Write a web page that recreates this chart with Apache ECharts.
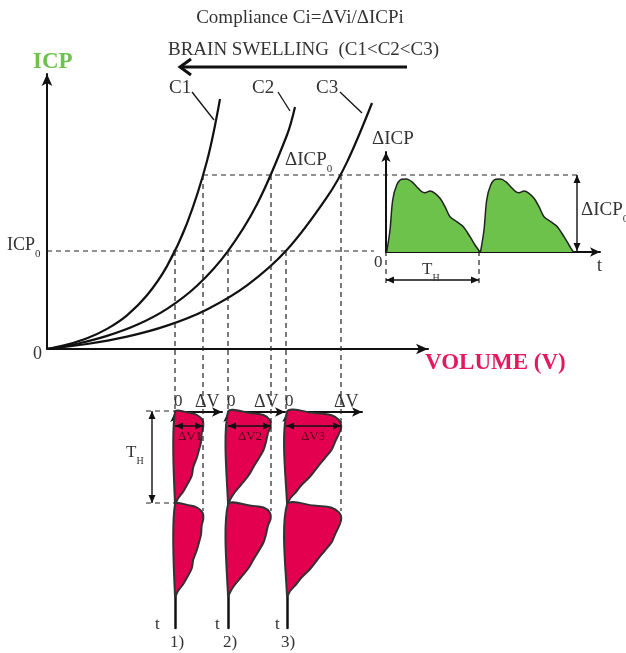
<!DOCTYPE html>
<html>
<head>
<meta charset="utf-8">
<script src="https://cdn.jsdelivr.net/npm/echarts@6/dist/echarts.min.js"></script>
<style>
  html, body { margin: 0; padding: 0; background: #fff; }
  #chart { width: 626px; height: 653px; }
</style>
</head>
<body>
<div id="chart"></div>
<script>
// pressure-volume curves (volume, ICP)
const volC1 = [0, 20, 40, 60, 80, 100, 120, 140, 160, 173];
const icpC1 = [0, 4.4, 10.7, 20.1, 33.7, 53.7, 82.9, 125.6, 188, 250];
const volC2 = [0, 30, 60, 90, 120, 150, 180, 210, 240, 248];
const icpC2 = [0, 5.3, 13.1, 24.2, 40.2, 63.3, 96.7, 144.7, 214, 242];
const volC3 = [0, 40, 80, 120, 160, 200, 240, 280, 300, 325];
const icpC3 = [0, 5.0, 12.4, 23.4, 39.6, 63.6, 99.2, 151.8, 186.9, 246];

// reference levels
const icp0 = 98;                    // ICP0
const icpTop = 174;                 // ICP0 + dICP0
const volAtIcp0 = [128, 181, 239];  // C1, C2, C3 at ICP0
const volAtTop = [156, 224, 294];   // C1, C2, C3 at ICP0 + dICP0

// dICP pulse (time, dICP), two heart beats
const beat1T = [0.7, 4, 6.7, 10.7, 15.7, 20.7, 25.7, 30.7, 35.7, 39, 44, 49, 54, 59, 64, 70.7, 77.3, 84, 89, 94];
const beat2T = [94.5, 98, 100.7, 104.7, 109.7, 114.7, 119.7, 124.7, 129.7, 133, 138, 143, 148, 153, 158, 164.7, 171.3, 178, 183, 187.3];
const beatICP = [0, 22, 52, 67, 72.7, 73, 70.3, 65.3, 60.3, 59.3, 61, 58.7, 53.7, 45.3, 35.3, 30.3, 25.3, 15.3, 7, 0];

// dV pulses (dV, time) for the three compliances
const dvT1 = [0, 1, 3, 8, 14, 21, 30, 38, 46, 55, 64, 73, 80, 86, 91.5];
const dvT2 = [92.5, 93.5, 95.5, 100.5, 106.5, 113.5, 122.5, 130.5, 138.5, 147.5, 156.5, 165.5, 172.5, 178.5, 184];
const dv1 = [0, 15, 22, 27.5, 28.3, 26.7, 26, 24, 21.7, 18.3, 16.7, 12, 8, 3.3, 0];
const dv2 = [0, 21.7, 35.5, 41.8, 42.7, 40, 38, 35.5, 31, 25.5, 20.2, 12.8, 7, 3, 0];
const dv3 = [0, 26.7, 44, 52, 54.3, 52.3, 48, 44.5, 38, 30.5, 23.5, 14.5, 9, 3.5, 0];

const SERIF = "'Liberation Serif', 'Times New Roman', serif";
const INK = '#111';
const TXT = '#333';
const GREEN = '#6cc24a';
const RED = '#e2004f';

var chart = echarts.init(document.getElementById('chart'), null, { renderer: 'canvas' });

function zip(a, b) {
  return a.map(function (v, i) { return [v, b[i]]; });
}

// hidden-tick axis with an arrow on the end
function arrowAxis(opt, width, size) {
  return Object.assign({
    type: 'value',
    axisLine: { show: true, onZero: false, symbol: ['none', 'arrow'], symbolSize: size, lineStyle: { color: INK, width: width } },
    axisTick: { show: false },
    axisLabel: { show: false },
    splitLine: { show: false }
  }, opt);
}

function curve(name, xs, ys) {
  return {
    name: name, type: 'line', xAxisIndex: 0, yAxisIndex: 0,
    data: zip(xs, ys), smooth: 0.35, showSymbol: false, silent: true,
    lineStyle: { color: INK, width: 2.2 }
  };
}

function beat(ts) {
  return {
    type: 'line', xAxisIndex: 1, yAxisIndex: 1, data: zip(ts, beatICP),
    smooth: 0.3, showSymbol: false, silent: true,
    lineStyle: { color: '#222', width: 1.5 },
    areaStyle: { color: GREEN, opacity: 1 }
  };
}

// dV pulse drawn as a filled shape against the vertical time axis
function dvPulse(idx, vals, ts) {
  const pts = zip(vals, ts);
  return {
    type: 'custom', xAxisIndex: idx, yAxisIndex: idx, silent: true, z: 3,
    data: [[0, 0]],
    renderItem: function (params, api) {
      return {
        type: 'polygon',
        shape: { points: pts.map(function (p) { return api.coord(p); }), smooth: 0.3 },
        style: { fill: RED, stroke: '#333', lineWidth: 2 }
      };
    }
  };
}

function head(a, b, len, wid) {
  const dx = b[0] - a[0], dy = b[1] - a[1];
  const d = Math.hypot(dx, dy), ux = dx / d, uy = dy / d;
  const bx = b[0] - ux * len, by = b[1] - uy * len;
  return {
    type: 'polygon',
    shape: { points: [b, [bx - uy * wid, by + ux * wid], [bx + uy * wid, by - ux * wid]] },
    style: { fill: INK }
  };
}

// guide lines, in volume / ICP units of the main plot
const dashes = [
  [[0, icp0], [327, icp0]],
  [[volAtTop[0], icpTop], [531, icpTop]],
  [[339, icp0], [339, 65]],
  [[432, icp0], [432, 65]],
  [[99, -62], [128, -62]],
  [[99, -154], [128, -154]]
];
volAtIcp0.forEach(function (v) { dashes.push([[v, icp0], [v, -62]]); });
volAtTop.forEach(function (v) { dashes.push([[v, icpTop], [v, -162]]); });

const doubleArrows = [
  [[530, icpTop], [530, icp0]],
  [[339, 69], [432, 69]],
  [[105, -62], [105, -154]]
];
volAtIcp0.forEach(function (v, i) { doubleArrows.push([[v, -77], [volAtTop[i], -77]]); });

const leaders = [
  [[145, 257], [167, 229]],
  [[231, 257], [243, 238]],
  [[293, 257], [315, 236]]
];

const guides = {
  type: 'custom', xAxisIndex: 0, yAxisIndex: 0, silent: true, z: 4,
  data: [[0, 0]],
  renderItem: function (params, api) {
    const kids = [];
    dashes.forEach(function (s) {
      const a = api.coord(s[0]), b = api.coord(s[1]);
      kids.push({ type: 'line', shape: { x1: a[0], y1: a[1], x2: b[0], y2: b[1] },
        style: { stroke: '#222', lineWidth: 1.2, lineDash: [5, 4] } });
    });
    doubleArrows.forEach(function (s) {
      const a = api.coord(s[0]), b = api.coord(s[1]);
      kids.push({ type: 'line', shape: { x1: a[0], y1: a[1], x2: b[0], y2: b[1] },
        style: { stroke: INK, lineWidth: 1.4 } });
      kids.push(head(a, b, 8, 3.5));
      kids.push(head(b, a, 8, 3.5));
    });
    leaders.forEach(function (s) {
      const a = api.coord(s[0]), b = api.coord(s[1]);
      kids.push({ type: 'line', shape: { x1: a[0], y1: a[1], x2: b[0], y2: b[1] },
        style: { stroke: INK, lineWidth: 1.3 } });
    });
    // brain swelling arrow
    const s0 = api.coord([360, 282]), s1 = api.coord([133, 282]);
    kids.push({ type: 'line', shape: { x1: s0[0], y1: s0[1], x2: s1[0] + 2, y2: s1[1] },
      style: { stroke: INK, lineWidth: 3 } });
    kids.push({ type: 'polyline', shape: { points: [[s1[0] + 11, s1[1] - 8], [s1[0], s1[1]], [s1[0] + 11, s1[1] + 8]] },
      style: { stroke: INK, lineWidth: 3, fill: null } });
    return { type: 'group', children: kids };
  }
};

function txt(x, y, text, size, opt) {
  return {
    type: 'text', x: x, y: y, silent: true, z: 10,
    style: Object.assign({
      text: text, font: size + 'px ' + SERIF, fill: TXT,
      align: 'left', verticalAlign: 'middle', textAlign: 'left', textVerticalAlign: 'middle'
    }, opt || {})
  };
}

function subTxt(x, y, main, sub, size) {
  return {
    type: 'text', x: x, y: y, silent: true, z: 10,
    style: {
      text: '{n|' + main + '}{s|' + sub + '}',
      align: 'left', verticalAlign: 'middle', textAlign: 'left', textVerticalAlign: 'middle',
      rich: {
        n: { font: size + 'px ' + SERIF, fill: TXT, verticalAlign: 'bottom', padding: [0, 0, 5, 0] },
        s: { font: Math.round(size * 0.6) + 'px ' + SERIF, fill: TXT, verticalAlign: 'bottom' }
      }
    }
  };
}

const labels = [
  txt(300, 18, 'Compliance Ci=\u0394Vi/\u0394ICPi', 19, { align: 'center', textAlign: 'center' }),
  txt(168, 50, 'BRAIN SWELLING  (C1<C2<C3)', 19),
  txt(33, 62, 'ICP', 23, { font: 'bold 23px ' + SERIF, fill: GREEN }),
  txt(425, 363, 'VOLUME (V)', 23, { font: 'bold 23px ' + SERIF, fill: '#e3195c' }),
  txt(33, 354, '0', 18),
  subTxt(7, 248, 'ICP', '0', 18),
  txt(169, 88, 'C1', 19),
  txt(252, 88, 'C2', 19),
  txt(316, 88, 'C3', 19),
  subTxt(285, 163, '\u0394ICP', '0', 19),
  txt(372, 139, '\u0394ICP', 19),
  subTxt(581, 213, '\u0394ICP', '0', 19),
  txt(374, 263, '0', 17),
  txt(597, 266, 't', 18),
  subTxt(422, 272, 'T', 'H', 17),
  subTxt(126, 455, 'T', 'H', 17),
  txt(174, 402, '0', 17), txt(195, 402, '\u0394V', 18),
  txt(227, 402, '0', 17), txt(254, 402, '\u0394V', 18),
  txt(285, 402, '0', 17), txt(334, 402, '\u0394V', 18),
  txt(190, 437, '\u0394V1', 13, { align: 'center', textAlign: 'center', fill: '#4a0018' }),
  txt(250, 437, '\u0394V2', 13, { align: 'center', textAlign: 'center', fill: '#4a0018' }),
  txt(313, 437, '\u0394V3', 13, { align: 'center', textAlign: 'center', fill: '#4a0018' }),
  txt(155, 625, 't', 17), txt(215, 625, 't', 17), txt(275, 625, 't', 17),
  txt(170, 643, '1)', 17), txt(223, 643, '2)', 17), txt(281, 643, '3)', 17)
];

var option = {
  backgroundColor: '#fff',
  animation: false,
  grid: [
    { left: 47, top: 74, width: 381, height: 275, outerBoundsMode: 'none' },  // ICP vs volume
    { left: 386, top: 152, width: 214, height: 100, outerBoundsMode: 'none' }, // dICP pulse
    { left: 175, top: 412, width: 47, height: 216, outerBoundsMode: 'none' },  // dV1
    { left: 228, top: 412, width: 57, height: 216, outerBoundsMode: 'none' },  // dV2
    { left: 287, top: 412, width: 75, height: 216, outerBoundsMode: 'none' }   // dV3
  ],
  xAxis: [
    arrowAxis({ gridIndex: 0, min: 0, max: 381 }, 2, [8, 12]),
    arrowAxis({ gridIndex: 1, min: 0, max: 214 }, 2, [7, 10]),
    arrowAxis({ gridIndex: 2, min: 0, max: 47, position: 'top' }, 2, [7, 10]),
    arrowAxis({ gridIndex: 3, min: 0, max: 57, position: 'top' }, 2, [7, 10]),
    arrowAxis({ gridIndex: 4, min: 0, max: 75, position: 'top' }, 2, [7, 10])
  ],
  yAxis: [
    arrowAxis({ gridIndex: 0, min: 0, max: 275 }, 2, [8, 12]),
    arrowAxis({ gridIndex: 1, min: 0, max: 100 }, 2, [7, 10]),
    arrowAxis({ gridIndex: 2, min: 0, max: 216, inverse: true }, 2.5, [7, 10]),
    arrowAxis({ gridIndex: 3, min: 0, max: 216, inverse: true }, 2.5, [7, 10]),
    arrowAxis({ gridIndex: 4, min: 0, max: 216, inverse: true }, 2.5, [7, 10])
  ],
  series: [
    curve('C1', volC1, icpC1),
    curve('C2', volC2, icpC2),
    curve('C3', volC3, icpC3),
    beat(beat1T),
    beat(beat2T),
    dvPulse(2, dv1, dvT1), dvPulse(2, dv1, dvT2),
    dvPulse(3, dv2, dvT1), dvPulse(3, dv2, dvT2),
    dvPulse(4, dv3, dvT1), dvPulse(4, dv3, dvT2),
    guides
  ],
  graphic: labels
};

chart.setOption(option);
</script>
</body>
</html>
